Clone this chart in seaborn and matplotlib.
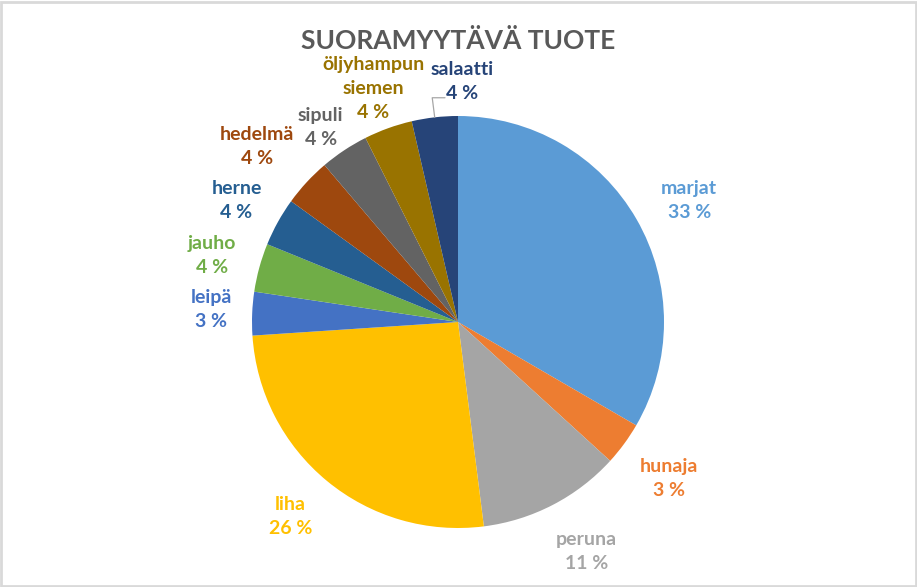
import numpy as np
import matplotlib
matplotlib.use("Agg")
import matplotlib.pyplot as plt
import seaborn as sns

# Data (share of respondents, %)
categories = ["marjat", "hunaja", "peruna", "liha", "leipä", "jauho",
              "herne", "hedelmä", "sipuli", "öljyhampun\nsiemen", "salaatti"]
shares = [33.3, 3.4, 11.2, 25.9, 3.4, 3.8, 3.8, 3.8, 3.8, 3.8, 3.6]
title = "SUORAMYYTÄVÄ TUOTE"

# Excel office palette
colors = ["#5B9BD5", "#ED7D31", "#A5A5A5", "#FFC000", "#4472C4", "#70AD47",
          "#255E91", "#9E480E", "#636363", "#997300", "#264478"]

# label placement (distance from centre in radii, small angle nudges in deg)
label_dist = [1.27, 1.27, 1.27, 1.24, 1.20, 1.24, 1.23, 1.30, 1.16, 1.215, 1.175]
label_nudge = [-2, 0, 2, -1.5, -1, 0, 0, 1.5, 1.5, 0, -7.5]

sns.set_theme(style="white")
plt.rcParams["font.family"] = ["Lato", "DejaVu Sans"]

W, H = 917, 587
cx, cy, R = 458, 322, 206  # pie centre and radius in pixels
LINE = 24  # label line height in pixels

fig = plt.figure(figsize=(W / 100, H / 100), dpi=100)
ax = fig.add_axes([0, 0, 1, 1])

wedges, _ = ax.pie(shares, colors=sns.color_palette(colors), startangle=90,
                   counterclock=False, wedgeprops=dict(linewidth=0))
ax.set_aspect("auto")
ax.set_xlim(-cx / R, (W - cx) / R)
ax.set_ylim(-(H - cy) / R, cy / R)
ax.axis("off")

for i, w in enumerate(wedges):
    mid = np.deg2rad((w.theta1 + w.theta2) / 2 + label_nudge[i])
    x = label_dist[i] * np.cos(mid)
    y = label_dist[i] * np.sin(mid)
    lines = categories[i].split("\n") + [f"{round(shares[i]):.0f} %"]
    n = len(lines)
    # one text per line so the boxes hug the words
    for k, line in enumerate(lines):
        yk = y + ((n - 1) / 2 - k) * LINE / R
        ax.text(x, yk, line, ha="center", va="center_baseline",
                color=colors[i], fontsize=14, fontweight="bold")

# leader line for the small 'salaatti' label
w = wedges[-1]
mid = np.deg2rad((w.theta1 + w.theta2) / 2)
x0, y0 = np.cos(mid), np.sin(mid)
ax.plot([x0, x0 - 0.012, x0 + 0.05], [y0, y0 + 0.095, y0 + 0.095],
        color="#A6A6A6", linewidth=0.9, clip_on=False)

fig.text(cx / W, 1 - 41 / H, title, ha="center", va="center",
         fontsize=19, fontweight="bold", color="#595959")

# chart border like the Excel chart area
fig.patches.append(plt.Rectangle((0.001, 0.001), 0.998, 0.996, transform=fig.transFigure,
                                 fill=False, edgecolor="#D9D9D9", linewidth=2))

fig.savefig("out.png", dpi=100, facecolor="white")
